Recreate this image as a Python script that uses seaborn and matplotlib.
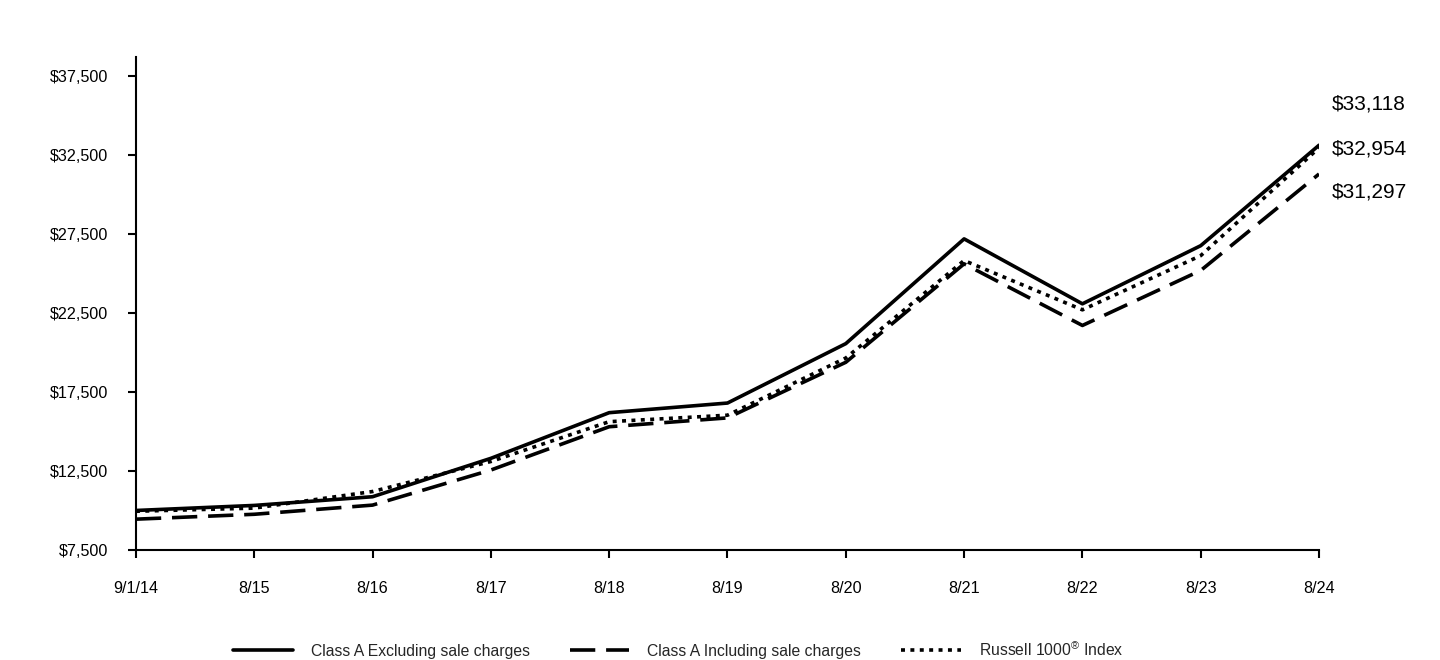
import matplotlib
matplotlib.use("Agg")
import matplotlib.pyplot as plt
import seaborn as sns
import pandas as pd
from matplotlib.lines import Line2D

dates = ["9/1/14", "8/15", "8/16", "8/17", "8/18", "8/19", "8/20", "8/21", "8/22", "8/23", "8/24"]
excl = [10000, 10320, 10870, 13300, 16190, 16800, 20560, 27190, 23080, 26760, 33118]
incl = [9450, 9760, 10340, 12560, 15300, 15860, 19380, 25610, 21710, 25190, 31297]
russell = [9950, 10150, 11200, 13100, 15620, 16030, 19650, 25820, 22700, 26130, 32954]
series_names = ["Class A Excluding sale charges", "Class A Including sale charges", "Russell 1000$^{®}$ Index"]
yticks = [7500, 12500, 17500, 22500, 27500, 32500, 37500]

sns.set_theme(style="white")
plt.rcParams["font.family"] = ["Liberation Sans", "DejaVu Sans"]
plt.rcParams["mathtext.default"] = "regular"

rows = []
for name, vals in zip(series_names, [excl, incl, russell]):
    for i, v in enumerate(vals):
        rows.append({"pos": i, "value": v, "series": name})
df = pd.DataFrame(rows)

fig = plt.figure(figsize=(14.4, 6.6), dpi=100)
ax = fig.add_axes([0.0944, 0.1667, 0.8216, 0.7469])

dash_map = {series_names[0]: "", series_names[1]: (7, 3), series_names[2]: (1.1, 1.5)}
sns.lineplot(data=df, x="pos", y="value", style="series", dashes=dash_map,
             color="black", linewidth=2.6, ax=ax, legend=False, sort=False)

ax.set_xlim(0, len(dates) - 1)
ax.set_ylim(7500, 38700)
ax.set_xticks(range(len(dates)))
ax.set_xticklabels(dates)
ax.set_yticks(yticks)
ax.set_yticklabels([f"${v:,}" for v in yticks])
ax.set_xlabel("")
ax.set_ylabel("")
for s in ["top", "right"]:
    ax.spines[s].set_visible(False)
for s in ["left", "bottom"]:
    ax.spines[s].set_color("black")
    ax.spines[s].set_linewidth(1.5)
ax.tick_params(axis="both", which="major", direction="out", length=6, width=1.5,
               color="black", labelsize=11.6, labelcolor="black", left=True, bottom=True)
ax.tick_params(axis="x", pad=16)
ax.tick_params(axis="y", pad=14)

last = len(dates) - 1
offsets = [(9, 30), (9, -1), (9, -13)]
for vals, off in zip([excl, russell, incl], offsets):
    ax.annotate(f"${vals[-1]:,}", xy=(last, vals[-1]), xytext=off, textcoords="offset points",
                fontsize=15, color="black", va="center", ha="left", annotation_clip=False)

handles = [
    Line2D([], [], color="black", linewidth=2.6, linestyle="-"),
    Line2D([], [], color="black", linewidth=2.6, linestyle=(0, (7, 3))),
    Line2D([], [], color="black", linewidth=2.6, linestyle=(0, (1.1, 1.5))),
]
fig.legend(handles, series_names, loc="center", bbox_to_anchor=(0.471, 0.016), ncol=3,
           frameon=False, fontsize=11.3, handlelength=3.8, handletextpad=1.15, columnspacing=2.55)

fig.savefig("out.png", dpi=100, facecolor="white")
